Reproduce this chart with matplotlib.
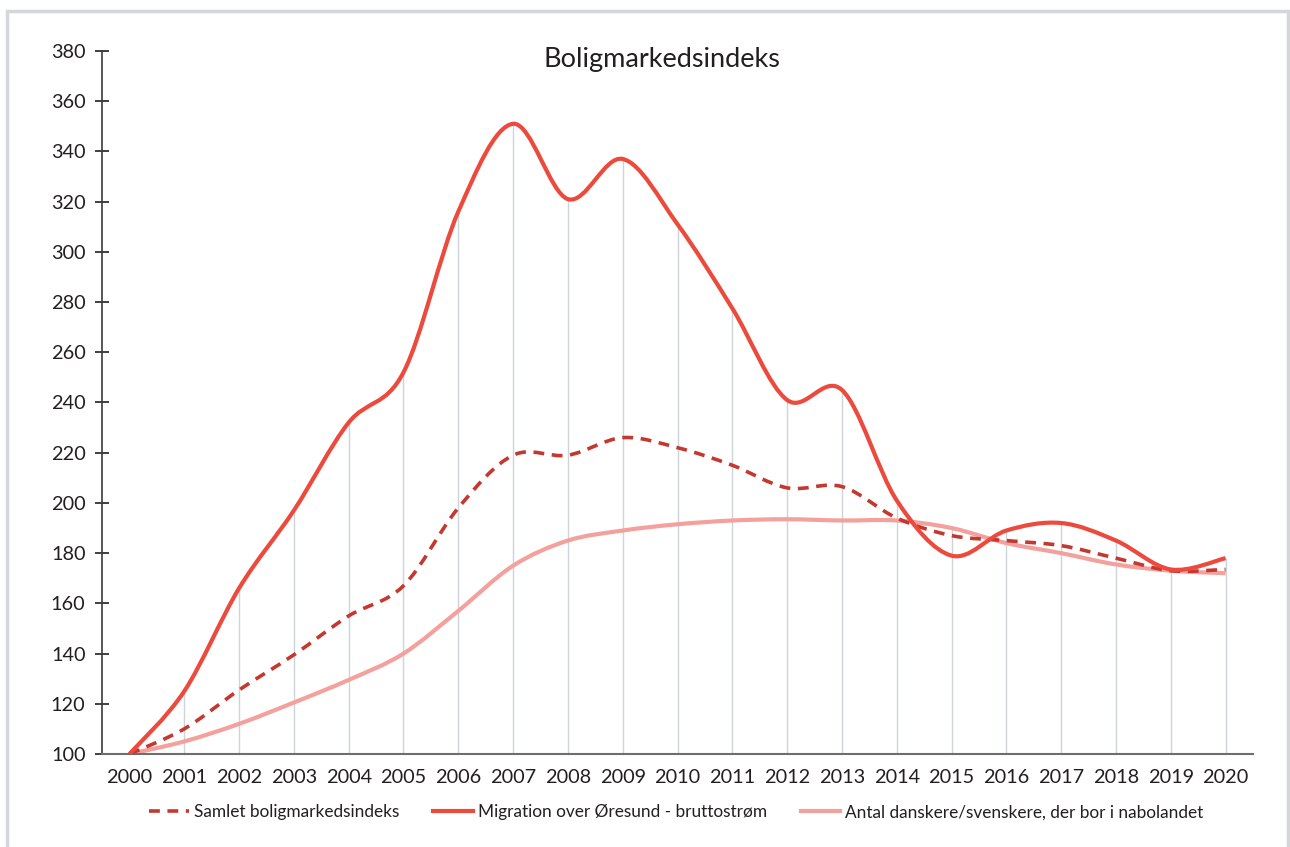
import matplotlib
matplotlib.use("Agg")
import matplotlib.pyplot as plt
from matplotlib.path import Path
from matplotlib.patches import PathPatch, Rectangle
from matplotlib.lines import Line2D

plt.rcParams['font.family'] = ['Lato', 'DejaVu Sans']

years = list(range(2000, 2021))

samlet = [100, 110, 125.5, 139.5, 155, 167, 198, 219, 219, 226, 222,
          215, 206, 206.5, 194, 187, 185, 183, 178, 173, 173.5]
migration = [100, 125, 166, 197, 232, 252, 316, 351, 321, 337, 311,
             277.5, 241, 245, 201, 179, 189, 192, 185, 173.5, 178]
antal = [100, 105, 112, 120.5, 129.5, 140, 157, 175, 185, 189, 191.5,
         193, 193.5, 193, 193, 190, 184, 180, 175.5, 173, 172]

labels = ['Samlet boligmarkedsindeks',
          'Migration over Øresund - bruttostrøm',
          'Antal danskere/svenskere, der bor i nabolandet']
colors = ['#C4382F', '#EC4A3C', '#F4A19D']
dash = (0, (3.0, 2.1))


def smooth_path(xs, ys):
    # Excel-style smoothed line: cubic Bezier through every data point
    verts = [(xs[0], ys[0])]
    codes = [Path.MOVETO]
    n = len(xs)
    for i in range(n - 1):
        x0, y0 = (xs[i - 1], ys[i - 1]) if i > 0 else (xs[i], ys[i])
        x1, y1 = xs[i], ys[i]
        x2, y2 = xs[i + 1], ys[i + 1]
        x3, y3 = (xs[i + 2], ys[i + 2]) if i + 2 < n else (x2, y2)
        c1 = (x1 + (x2 - x0) / 6, y1 + (y2 - y0) / 6)
        c2 = (x2 - (x3 - x1) / 6, y2 - (y3 - y1) / 6)
        verts += [c1, c2, (x2, y2)]
        codes += [Path.CURVE4] * 3
    return Path(verts, codes)


fig = plt.figure(figsize=(12.9, 8.47), dpi=100)
ax = fig.add_axes([0.0791, 0.1098, 0.8922, 0.83])

# drop lines from top series to axis
tops = [max(a, b, c) for a, b, c in zip(samlet, migration, antal)]
ax.vlines(years[1:], 100, tops[1:], color='#CDD3DA', lw=1, zorder=1)

series = [(antal, colors[2], '-', 3.0, 2),
          (samlet, colors[0], dash, 2.6, 3),
          (migration, colors[1], '-', 3.0, 4)]
for ys, col, ls, lw, z in series:
    p = PathPatch(smooth_path(years, ys), fill=False, edgecolor=col,
                  lw=lw, linestyle=ls, capstyle='butt', zorder=z)
    ax.add_patch(p)

ax.set_xlim(1999.5, 2020.5)
ax.set_ylim(100, 380)
ax.set_xticks(years)
ax.set_yticks(range(100, 381, 20))
ax.tick_params(axis='x', length=0, pad=11, labelsize=14.3, colors='#231F20')
ax.tick_params(axis='y', direction='inout', length=10, width=1.2, pad=7,
               labelsize=14.3, colors='#231F20')
for s in ['top', 'right']:
    ax.spines[s].set_visible(False)
ax.spines['left'].set_color('#3A3A3A')
ax.spines['bottom'].set_color('#6E6E6E')
ax.spines['left'].set_linewidth(1.2)
ax.spines['bottom'].set_linewidth(1.5)

fig.text(662 / 1290, 1 - 60 / 847, 'Boligmarkedsindeks', ha='center',
         va='center', fontsize=19.5, color='#231F20')

handles = [Line2D([], [], color=colors[0], lw=2.6, ls=dash),
           Line2D([], [], color=colors[1], lw=3.0),
           Line2D([], [], color=colors[2], lw=3.0)]
fig.legend(handles, labels, loc='center', bbox_to_anchor=(0.5244, 0.041),
           ncol=3, frameon=False, fontsize=12.4, handlelength=2.3,
           handletextpad=0.3, columnspacing=1.95, labelcolor='#231F20')

fig.patches.append(Rectangle((7 / 1290, -0.1), 1281 / 1290, 1.1 - 11 / 847,
                             transform=fig.transFigure, fill=False,
                             edgecolor='#D3D7DB', lw=2.5))

fig.savefig('out.png', dpi=100)
